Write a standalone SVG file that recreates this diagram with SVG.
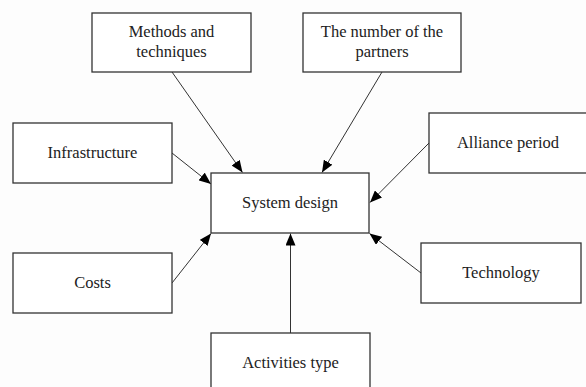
<svg xmlns="http://www.w3.org/2000/svg" width="586" height="387" viewBox="0 0 586 387">
<style>
.box{fill:#fff;stroke:#333;stroke-width:1.3}
.t{font-family:"Liberation Serif","Times New Roman",serif;font-size:16.5px;fill:#222;text-anchor:middle}
.c{stroke:#333;stroke-width:1;fill:none;marker-end:url(#ah)}
</style>
<defs>
<marker id="ah" viewBox="0 0 12 10" refX="12" refY="5" markerWidth="12" markerHeight="10" markerUnits="userSpaceOnUse" orient="auto">
<path d="M0,0 L12,5 L0,10 z" fill="#000"/>
</marker>
</defs>
<rect width="586" height="387" fill="#fdfdfd"/>
<g id="connectors">
<line class="c" x1="172" y1="72" x2="242.5" y2="172.5"/>
<line class="c" x1="172" y1="153" x2="211" y2="184"/>
<line class="c" x1="382" y1="72" x2="322" y2="172.5"/>
<line class="c" x1="429" y1="143" x2="370" y2="202.5"/>
<line class="c" x1="421" y1="273" x2="369.5" y2="233.5"/>
<line class="c" x1="172" y1="283" x2="211" y2="233.5"/>
<line class="c" x1="290.5" y1="333" x2="290.5" y2="233.5"/>
</g>
<g id="system-design">
<rect class="box" x="211" y="173" width="158" height="60"/>
<text class="t" x="290" y="208">System design</text>
</g>
<g id="methods">
<rect class="box" x="92" y="13" width="159" height="59"/>
<text class="t" x="171.5" y="37">Methods and</text>
<text class="t" x="171.5" y="57">techniques</text>
</g>
<g id="partners">
<rect class="box" x="303" y="13" width="158" height="59"/>
<text class="t" x="382" y="37">The number of the</text>
<text class="t" x="382" y="57">partners</text>
</g>
<g id="infrastructure">
<rect class="box" x="13" y="123" width="159" height="60"/>
<text class="t" x="92.5" y="158">Infrastructure</text>
</g>
<g id="alliance">
<rect class="box" x="429" y="113" width="162" height="60"/>
<text class="t" x="508" y="148">Alliance period</text>
</g>
<g id="costs">
<rect class="box" x="13" y="253" width="159" height="60"/>
<text class="t" x="92.5" y="288">Costs</text>
</g>
<g id="technology">
<rect class="box" x="421" y="243" width="160" height="60"/>
<text class="t" x="501" y="278">Technology</text>
</g>
<g id="activities">
<rect class="box" x="211" y="333" width="159" height="60"/>
<text class="t" x="290.5" y="368">Activities type</text>
</g>
</svg>
